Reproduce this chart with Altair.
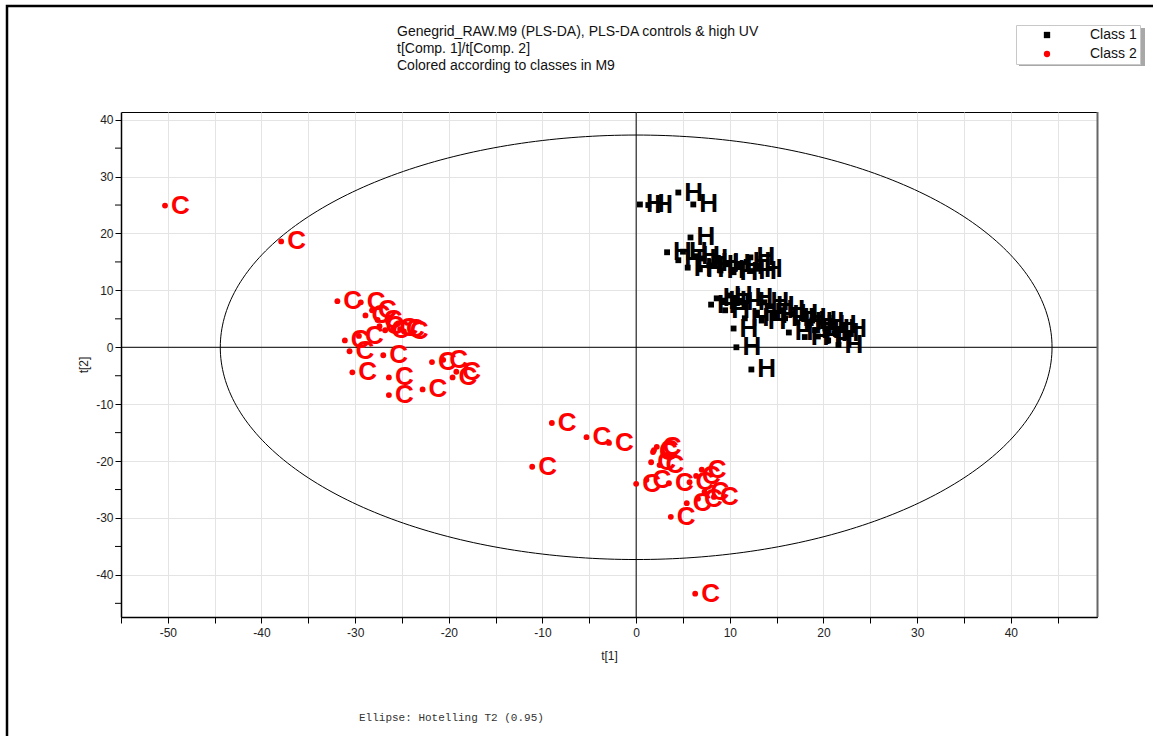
import altair as alt
import numpy as np
import pandas as pd

# PLS-DA scores t[1], t[2] for class 1 (high UV, "H")
h_t1 = [0.4, 1.3, 4.5, 6.1,
        3.3, 4.5, 5.0, 5.8, 5.5, 6.3, 6.8, 7.2, 7.8, 8.4, 9.0, 9.6, 10.4, 11.0, 11.8, 12.2, 12.4, 13.0,
        8.0, 8.6, 9.2, 9.8, 9.5, 10.4, 10.7, 12.3, 13.7, 12.9, 13.4, 14.3, 14.8, 15.4, 15.9, 16.3,
        16.8, 17.2, 17.7, 18.0, 18.4, 18.8, 19.1, 19.4, 19.6, 20.2, 20.5, 20.9, 21.2, 21.6, 22.0,
        11.6, 11.1, 12.0]
h_t2 = [25.1, 25.0, 27.2, 25.1,
        16.7, 15.3, 16.8, 19.3, 14.0, 16.0, 13.7, 15.6, 14.4, 14.8, 13.5, 14.6, 13.2, 14.3, 15.0, 15.8, 13.4, 13.8,
        7.5, 8.6, 8.2, 9.1, 6.5, 3.3, 0.0, -3.9, 7.9, 6.1, 4.7, 7.2, 5.6, 6.5, 5.1, 2.6,
        5.8, 4.4, 5.1, 1.8, 3.9, 4.7, 3.0, 1.9, 4.4, 3.3, 1.2, 4.0, 2.5, 0.4, 3.3,
        5.1, 7.9, 8.6]

# PLS-DA scores t[1], t[2] for class 2 (controls, "C")
c_t1 = [-50.3, -37.9,
        -31.9, -29.4, -28.9, -28.2, -27.6, -27.4, -26.8, -25.9, -25.2, -24.8, -31.1, -29.6,
        -30.6, -27.0, -30.3, -26.4, -26.4, -22.8, -21.8, -20.6, -19.6, -19.2,
        -9.0, -5.3, -2.9, -11.1, 0.0, 1.1, 1.8, 1.6, 1.9, 2.2, 2.5, 3.5, 5.7, 6.4, 7.3, 8.3,
        5.4, 3.7, 6.6, 7.0,
        6.3]
c_t2 = [24.9, 18.6,
        8.1, 7.9, 5.6, 6.5, 4.8, 3.7, 3.0, 3.4, 3.2, 2.8, 1.2, 2.0,
        -0.7, -1.4, -4.4, -5.3, -8.4, -7.4, -2.6, -2.2, -5.3, -4.3,
        -13.3, -15.8, -16.8, -21.0, -24.0, -23.3, -18.4, -20.2, -18.1, -17.5, -20.7, -23.9, -23.7, -22.6, -25.4, -26.3,
        -27.4, -29.8, -26.6, -21.5,
        -43.3]

# Hotelling T2 (0.95) ellipse semi-axes
ELLIPSE_A = 44.4
ELLIPSE_B = 37.3

TITLE_TEXT = ("Genegrid_RAW.M9 (PLS-DA), PLS-DA controls & high UV\n"
              "t[Comp. 1]/t[Comp. 2]\n"
              "Colored according to classes in M9")
FOOTNOTE = "Ellipse: Hotelling T2 (0.95)"

X_DOMAIN = [-55, 49.2]
Y_DOMAIN = [-47.4, 41.35]
X_TICKS = list(range(-55, 50, 5))
Y_MAJOR = list(range(-40, 41, 10))
Y_MINOR = list(range(-45, 41, 10))
W, H = 976, 505
FONT = "Liberation Sans"

scores = pd.DataFrame({
    "t1": h_t1 + c_t1,
    "t2": h_t2 + c_t2,
    "cls": ["Class 1"] * len(h_t1) + ["Class 2"] * len(c_t1),
    "lab": ["H"] * len(h_t1) + ["C"] * len(c_t1),
})

ang = np.linspace(0, 2 * np.pi, 361)
ellipse = pd.DataFrame({"t1": ELLIPSE_A * np.cos(ang), "t2": ELLIPSE_B * np.sin(ang),
                        "i": np.arange(len(ang))})

xs = alt.Scale(domain=X_DOMAIN, nice=False, zero=False)
ys = alt.Scale(domain=Y_DOMAIN, nice=False, zero=False)

x_axis = alt.Axis(
    values=X_TICKS, labelExpr="datum.value % 10 === 0 ? '' + datum.value : ''",
    grid=True, gridColor="#e4e4e4", gridWidth=1,
    domainColor="black", domainWidth=1.5, tickColor="black", tickSize=6,
    labelFont=FONT, labelFontSize=12, labelColor="#222", labelPadding=4,
    title="t[1]", titleFont=FONT, titleFontSize=12, titleFontWeight="normal",
    titleColor="#222", titlePadding=12,
)
y_axis = alt.Axis(
    values=Y_MAJOR, labelExpr="'' + datum.value", grid=True, gridColor="#e4e4e4", gridWidth=1,
    domainColor="black", domainWidth=1.5, tickColor="black", tickSize=6,
    labelFont=FONT, labelFontSize=12, labelColor="#222", labelPadding=2,
    title="t[2]", titleFont=FONT, titleFontSize=12, titleFontWeight="normal",
    titleColor="#222", titlePadding=5,
)

base = alt.Chart(scores)
cls_scale = alt.Scale(domain=["Class 1", "Class 2"], range=["black", "#ff0000"])

cls_color = alt.Color("cls:N", scale=cls_scale,
                      legend=alt.Legend(
                          title=None, orient="none", legendX=895, legendY=-87,
                          fillColor="white", strokeColor="#c8c8c8", padding=3,
                          symbolOffset=21, labelOffset=36, rowPadding=5,
                          labelFont=FONT, labelFontSize=14, labelColor="#111",
                          symbolSize=40, symbolStrokeWidth=0,
                      ))
cls_shape = alt.Shape("cls:N", scale=alt.Scale(domain=["Class 1", "Class 2"], range=["square", "circle"]),
                      legend=alt.Legend(title=None, orient="none", legendX=895, legendY=-87))

axes_layer = alt.Chart(pd.DataFrame({"t1": [0.0], "t2": [0.0]})).mark_point(opacity=0).encode(
    x=alt.X("t1:Q", scale=xs, axis=x_axis),
    y=alt.Y("t2:Q", scale=ys, axis=y_axis),
)

# unlabelled minor ticks on the t[2] axis, halfway between the labelled ones
y_minor = alt.Chart(pd.DataFrame({"t2": Y_MINOR})).mark_rule(color="black", strokeWidth=1).encode(
    y=alt.Y("t2:Q", scale=ys), x=alt.value(-6), x2=alt.value(0))

zero_v = alt.Chart(pd.DataFrame({"t1": [0.0]})).mark_rule(color="black", strokeWidth=1).encode(
    x=alt.X("t1:Q", scale=xs))
zero_h = alt.Chart(pd.DataFrame({"t2": [0.0]})).mark_rule(color="black", strokeWidth=1).encode(
    y=alt.Y("t2:Q", scale=ys))

ellipse_line = alt.Chart(ellipse).mark_line(color="black", strokeWidth=1).encode(
    x=alt.X("t1:Q", scale=xs), y=alt.Y("t2:Q", scale=ys), order="i:Q")

points = base.mark_point(filled=True, opacity=1, size=34).encode(
    x=alt.X("t1:Q", scale=xs), y=alt.Y("t2:Q", scale=ys),
    color=cls_color, shape=cls_shape,
)

labels = base.mark_text(align="left", baseline="middle", dx=6, fontSize=26,
                        fontWeight="bold", font=FONT).encode(
    x=alt.X("t1:Q", scale=xs), y=alt.Y("t2:Q", scale=ys), text="lab:N",
    color=alt.Color("cls:N", scale=cls_scale, legend=None),
)

one = pd.DataFrame({"k": [0]})
outer_frame = alt.Chart(one).mark_rect(fill=None, stroke="black", strokeWidth=2.5).encode(
    x=alt.value(-114), x2=alt.value(1100), y=alt.value(-106), y2=alt.value(700))
right_edge = alt.Chart(one).mark_rule(color="#666", strokeWidth=2).encode(
    x=alt.value(W + 0.5), y=alt.value(0), y2=alt.value(H))
legend_shadow = alt.Chart(one).mark_rect(color="#a8a8a8").encode(
    x=alt.value(898), x2=alt.value(1024), y=alt.value(-84), y2=alt.value(-46))
title_text = alt.Chart(one).mark_text(align="left", baseline="top", font=FONT, fontSize=14,
                                      lineHeight=17, lineBreak="\n", color="#111").encode(
    x=alt.value(276), y=alt.value(-87), text=alt.value(TITLE_TEXT))
footnote = alt.Chart(one).mark_text(align="left", baseline="middle", font="Liberation Mono",
                                    fontSize=11, color="#333").encode(
    x=alt.value(238), y=alt.value(606), text=alt.value(FOOTNOTE))

chart = alt.layer(
    axes_layer, y_minor, outer_frame, legend_shadow, title_text, ellipse_line, zero_v, zero_h,
    points, labels, right_edge, footnote
).properties(
    width=W, height=H,
    autosize=alt.AutoSizeParams(type="none"),
    padding={"left": 121, "top": 112, "right": 56, "bottom": 119},
).configure_view(stroke="black", strokeWidth=1)

chart.save("out.html", embed_options={"renderer": "svg", "actions": False})
